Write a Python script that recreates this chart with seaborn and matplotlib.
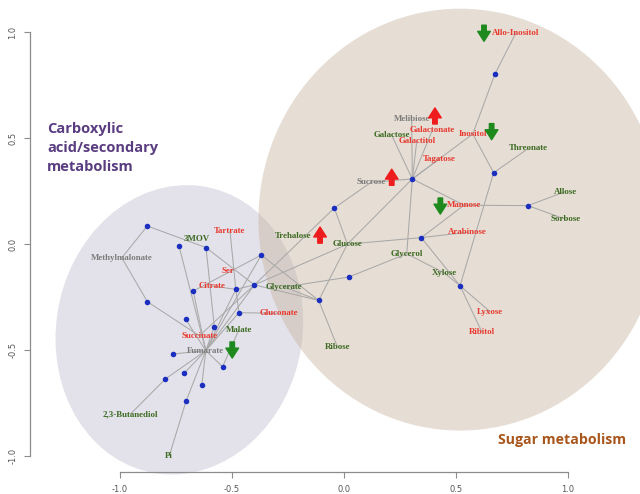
import numpy as np
import pandas as pd
import matplotlib
matplotlib.use("Agg")
import matplotlib.pyplot as plt
from matplotlib.patches import Ellipse
import seaborn as sns

# ---- network layout (2-D embedding coordinates) ----
label_names = ["Methylmalonate", "3MOV", "Tartrate", "Trehalose", "Ser", "Citrate",
               "Glycerate", "Gluconate", "Malate", "Succinate", "Fumarate",
               "2,3-Butanediol", "Pi", "Glucose", "Sucrose", "Tagatose", "Mannose",
               "Arabinose", "Glycerol", "Xylose", "Ribose", "Lyxose", "Ribitol",
               "Allo-Inositol", "Melibiose", "Galactonate", "Inositol", "Galactose",
               "Galactitol", "Threonate", "Allose", "Sorbose"]
label_x = [-0.992, -0.658, -0.509, -0.226, -0.517, -0.591, -0.267, -0.292, -0.470,
           -0.646, -0.617, -0.954, -0.780, 0.015, 0.121, 0.426, 0.536, 0.550, 0.280,
           0.448, -0.030, 0.652, 0.615, 0.768, 0.302, 0.394, 0.575, 0.212, 0.325,
           0.823, 0.988, 0.988]
label_y = [-0.065, 0.022, 0.061, 0.036, -0.127, -0.198, -0.203, -0.327, -0.407,
           -0.433, -0.503, -0.803, -0.999, -0.001, 0.291, 0.401, 0.183, 0.055,
           -0.046, -0.137, -0.484, -0.319, -0.414, 0.997, 0.591, 0.536, 0.519,
           0.515, 0.487, 0.451, 0.247, 0.117]
# g = green, r = red, k = grey
label_group = ["k", "g", "r", "g", "r", "r", "g", "r", "g", "r", "k", "g", "g", "g",
               "k", "r", "r", "r", "g", "g", "g", "r", "r", "r", "k", "r", "r", "g",
               "r", "g", "g", "g"]

dot_names = ["n1", "n2", "n3", "n4", "n5", "n6", "n7", "n8", "n9", "n10", "n11",
             "n12", "n13", "n14", "n15", "n16", "n17",
             "hub", "r1", "r2", "r3", "r4", "r5", "r6", "r7", "r8"]
dot_x = [-0.878, -0.737, -0.616, -0.369, -0.400, -0.483, -0.673, -0.878, -0.469,
         -0.707, -0.579, -0.765, -0.542, -0.714, -0.798, -0.635, -0.705,
         0.305, 0.673, 0.668, 0.821, 0.345, -0.043, 0.021, -0.113, 0.518]
dot_y = [0.085, -0.008, -0.017, -0.052, -0.193, -0.214, -0.222, -0.272, -0.324,
         -0.355, -0.390, -0.519, -0.579, -0.610, -0.637, -0.667, -0.741,
         0.307, 0.800, 0.336, 0.181, 0.030, 0.170, -0.156, -0.266, -0.197]

edge_src = ["n1", "n1", "Methylmalonate", "n8", "n3", "n3", "Tartrate", "n6",
            "Citrate", "n6", "n4", "n4", "n5", "n5", "Fumarate", "Fumarate",
            "Fumarate", "Fumarate", "Fumarate", "Fumarate", "Fumarate", "Fumarate",
            "Fumarate", "Fumarate", "Fumarate", "Fumarate", "Fumarate", "Fumarate",
            "Malate", "n15", "n17", "n9",
            "Allo-Inositol", "r1", "Inositol", "Inositol", "r2", "r2",
            "hub", "hub", "hub", "hub", "hub", "hub", "hub", "hub", "hub",
            "Mannose", "r3", "r3", "Mannose", "r4", "r4", "r4",
            "Sucrose", "r5", "r5", "Glucose", "r7", "r7", "r6", "r6",
            "Glycerol", "Xylose", "r8", "r8", "n5"]
edge_dst = ["n3", "Methylmalonate", "n8", "Succinate", "n5", "n11", "n6", "n9",
            "n6", "n5", "n7", "r7", "r7", "Glucose", "n2", "n4", "n5", "n6", "n7",
            "n9", "n10", "n11", "n12", "n13", "n14", "n15", "n16", "n17",
            "n13", "2,3-Butanediol", "Pi", "Gluconate",
            "r1", "Inositol", "hub", "r2", "Threonate", "r8",
            "Galactose", "Melibiose", "Galactonate", "Galactitol", "Tagatose",
            "Sucrose", "Mannose", "Glucose", "Glycerol",
            "r3", "Allose", "Sorbose", "r4", "Arabinose", "Glucose", "r8",
            "r5", "n5", "Glucose", "r7", "Ribose", "Glycerate", "Glycerol",
            "Glycerate", "Xylose", "r8", "Lyxose", "Ribitol", "Succinate"]

# fold-change arrows next to selected metabolites (+1 up, -1 down)
arrow_x = [0.213, -0.107, 0.406, -0.499, 0.430, 0.625, 0.659]
arrow_y = [0.315, 0.042, 0.604, -0.500, 0.179, 0.994, 0.530]
arrow_dir = [1, 1, 1, -1, -1, -1, -1]

tick_vals = [-1.0, -0.5, 0.0, 0.5, 1.0]
tick_labels = ["-1.0", "-0.5", "0.0", "0.5", "1.0"]

# ---- styling ----
sns.set_theme(style="white")
label_colors = {"g": "#3d6b22", "r": "#e8392f", "k": "#7c7c7c"}
edge_color = "#a9a9a9"
dot_color = "#1a2ec0"

pos = {n: (x, y) for n, x, y in zip(label_names, label_x, label_y)}
pos.update({n: (x, y) for n, x, y in zip(dot_names, dot_x, dot_y)})

rows = []
for i, (s, d) in enumerate(zip(edge_src, edge_dst)):
    for n in (s, d):
        rows.append({"edge": i, "x": pos[n][0], "y": pos[n][1]})
edges_df = pd.DataFrame(rows)
dots_df = pd.DataFrame({"x": dot_x, "y": dot_y})

fig = plt.figure(figsize=(6.4, 4.94), dpi=100)
ax = fig.add_axes([30 / 640, 22 / 494, 610 / 640, 472 / 494])
ax.set_xlim(-1.4018, 1.3214)
ax.set_ylim(-1.0755, 1.1509)

# cluster backgrounds
ax.add_patch(Ellipse((-0.735, -0.405), 1.10, 1.37, angle=-8,
                     facecolor="#e3e2ea", edgecolor="none", zorder=0, clip_on=False))
ax.add_patch(Ellipse((0.518, 0.115), 1.80, 1.99, angle=0,
                     facecolor="#c9b4a0", alpha=0.45, edgecolor="none", zorder=0.5,
                     clip_on=False))

sns.lineplot(data=edges_df, x="x", y="y", units="edge", estimator=None, sort=False,
             color=edge_color, linewidth=0.75, ax=ax, zorder=1, legend=False)
sns.scatterplot(data=dots_df, x="x", y="y", color=dot_color, s=16, linewidth=0,
                ax=ax, zorder=3, legend=False)

for n, x, y, g in zip(label_names, label_x, label_y, label_group):
    ax.text(x, y, n, ha="center", va="center", fontsize=6.4, fontweight="bold",
            family="Liberation Serif", color=label_colors[g], zorder=4)

half = 0.038
for x, y, d in zip(arrow_x, arrow_y, arrow_dir):
    col = "#ee1c1c" if d > 0 else "#1e8a1e"
    ax.annotate("", xy=(x, y + d * half), xytext=(x, y - d * half),
                arrowprops=dict(arrowstyle="simple,head_length=0.55,head_width=0.7,tail_width=0.25",
                                color=col, mutation_scale=13, shrinkA=0, shrinkB=0),
                zorder=5)

ax.text(-1.325, 0.575, "Carboxylic\nacid/secondary\nmetabolism", ha="left", va="top",
        fontsize=10.5, fontweight="bold", family="Open Sans", color="#5a3d80",
        linespacing=1.45)
ax.text(0.975, -0.925, "Sugar metabolism", ha="center", va="center", fontsize=10.2,
        fontweight="bold", family="Open Sans", color="#a8561c")

# R-style detached axes
for side in ("top", "right"):
    ax.spines[side].set_visible(False)
for side in ("left", "bottom"):
    ax.spines[side].set_color("#8c8c8c")
    ax.spines[side].set_linewidth(0.9)
    ax.spines[side].set_bounds(-1, 1)
ax.set_xticks(tick_vals)
ax.set_xticklabels(tick_labels)
ax.set_yticks(tick_vals)
ax.set_yticklabels(tick_labels, rotation=90, va="center")
ax.tick_params(axis="both", direction="out", length=4, width=0.8, color="#8c8c8c",
               labelsize=6, labelcolor="#555555", pad=5, left=True, bottom=True)
ax.set_xlabel("")
ax.set_ylabel("")
ax.grid(False)
ax.set_facecolor("white")

fig.savefig("out.png", dpi=100)
